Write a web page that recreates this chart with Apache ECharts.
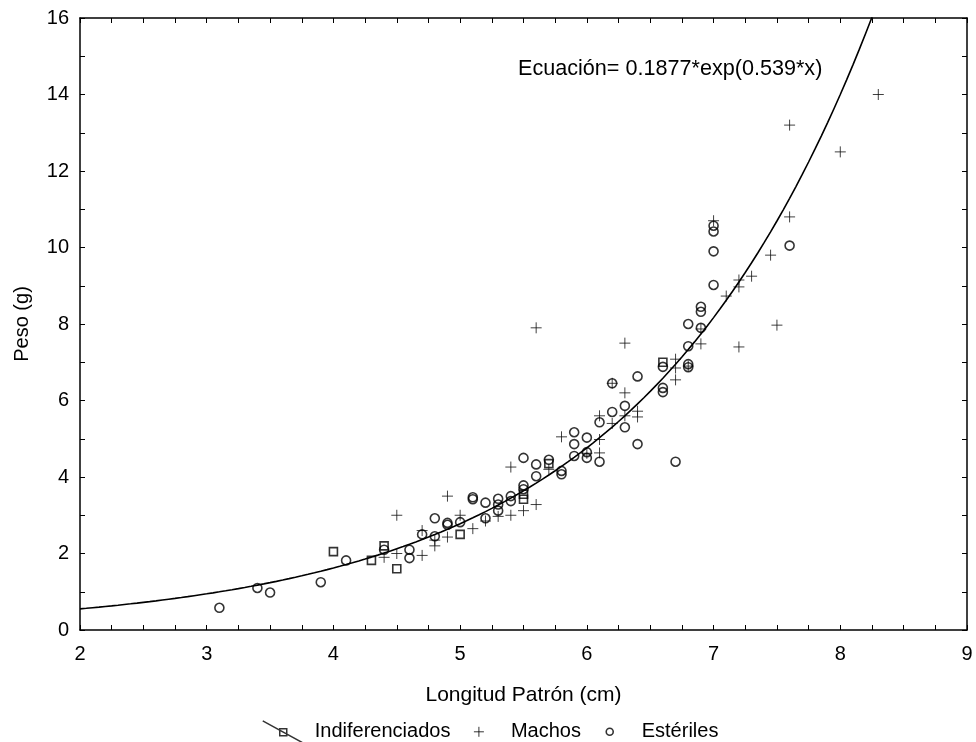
<!DOCTYPE html>
<html>
<head>
<meta charset="utf-8">
<script src="https://cdn.jsdelivr.net/npm/echarts@6/dist/echarts.min.js"></script>
<style>
  html, body { margin: 0; padding: 0; background: #fff; }
  #chart { width: 976px; height: 742px; }
</style>
</head>
<body>
<div id="chart"></div>
<script>
  // Indiferenciados (cuadrados)
  const indiferenciados = [
    [4.0, 2.05], [4.3, 1.82], [4.4, 2.2], [4.5, 1.6], [5.0, 2.5],
    [5.5, 3.42], [5.5, 3.55], [5.7, 4.35], [6.6, 7.0]
  ]
  // Machos (cruces)
  const machos = [
    [4.4, 1.9], [4.5, 3.0], [4.5, 2.0], [4.7, 1.95], [4.7, 2.6], [4.8, 2.2], [4.8, 2.35],
    [4.9, 3.5], [4.9, 2.43], [5.0, 3.0], [5.1, 2.65], [5.2, 2.85], [5.3, 2.97], [5.4, 3.0],
    [5.4, 4.26], [5.5, 3.12], [5.6, 3.28], [5.6, 7.9], [5.7, 4.2], [5.8, 5.05], [6.0, 4.62],
    [6.1, 5.6], [6.1, 4.98], [6.1, 4.63], [6.2, 6.45], [6.2, 5.4], [6.3, 7.5], [6.3, 6.2],
    [6.3, 5.6], [6.4, 5.72], [6.4, 5.57], [6.7, 7.08], [6.7, 6.85], [6.7, 6.54], [6.8, 6.9],
    [6.9, 7.87], [6.9, 7.48], [7.0, 10.7], [7.1, 8.73], [7.2, 9.15], [7.2, 8.97], [7.2, 7.4],
    [7.3, 9.25], [7.45, 9.8], [7.5, 7.97], [7.6, 10.8], [7.6, 13.2], [8.0, 12.5], [8.3, 14.0]
  ]
  // Estériles (círculos)
  const esteriles = [
    [3.1, 0.58], [3.4, 1.1], [3.5, 0.98], [3.9, 1.25], [4.1, 1.82], [4.4, 2.1], [4.6, 2.1],
    [4.6, 1.88], [4.7, 2.5], [4.8, 2.92], [4.8, 2.45], [4.9, 2.75], [4.9, 2.8], [5.0, 2.82],
    [5.1, 3.42], [5.1, 3.47], [5.2, 3.33], [5.2, 2.92], [5.3, 3.43], [5.3, 3.28], [5.3, 3.12],
    [5.4, 3.5], [5.4, 3.37], [5.5, 3.78], [5.5, 3.68], [5.5, 4.5], [5.6, 4.33], [5.6, 4.02],
    [5.7, 4.45], [5.8, 4.16], [5.8, 4.07], [5.9, 5.17], [5.9, 4.86], [5.9, 4.55], [6.0, 5.03],
    [6.0, 4.65], [6.0, 4.5], [6.1, 4.4], [6.1, 5.43], [6.2, 5.7], [6.2, 6.45], [6.3, 5.86],
    [6.3, 5.3], [6.4, 6.63], [6.4, 4.86], [6.6, 6.88], [6.6, 6.33], [6.6, 6.22], [6.7, 4.4],
    [6.8, 8.0], [6.8, 7.42], [6.8, 6.95], [6.8, 6.87], [6.9, 8.45], [6.9, 8.32], [6.9, 7.9],
    [7.0, 10.57], [7.0, 10.42], [7.0, 9.9], [7.0, 9.02], [7.6, 10.05]
  ]
  const xTicks = [2, 9, 1]   // min, max, interval
  const yTicks = [0, 16, 2]

  // curva ajustada: Peso = 0.1877*exp(0.539*x)
  const fitA = 0.1877
  const fitB = 0.539
  const fitLine = []
  for (let x = 2; x <= 8.4; x += 0.05) {
    fitLine.push([x, fitA * Math.exp(fitB * x)])
  }

  const FONT = 'Liberation Sans, Arial, sans-serif'
  const black = '#000'
  const hollow = 'rgba(0,0,0,0)'
  const plusPath = 'path://M0,5L10,5M5,0L5,10'

  const tickCfg = { show: true, inside: true, length: 5, lineStyle: { color: black, width: 1 } }
  const minorCfg = (n) => ({ show: true, splitNumber: n, length: 5, lineStyle: { color: black, width: 1 } })

  let myChart = echarts.init(document.getElementById('chart'), null, { renderer: 'canvas' })
  myChart.setOption({
    animation: false,
    backgroundColor: '#fff',
    textStyle: { fontFamily: FONT, color: black },
    grid: { left: 80, right: 9, top: 18, bottom: 112 },
    legend: {
      left: 262,
      top: 720,
      padding: 0,
      itemWidth: 40,
      itemHeight: 22,
      itemGap: 8,
      textStyle: { fontSize: 20, fontFamily: FONT, color: black, padding: [0, 0, 0, 7] },
      data: [
        {
          name: 'Indiferenciados',
          icon: 'path://M0,0L40,22M17,8L24,8L24,15L17,15Z',
          itemStyle: { color: hollow, borderColor: black, borderWidth: 1.5 }
        },
        {
          name: 'Machos',
          icon: 'path://M0,0M40,22M15,11L25,11M20,6L20,16',
          itemStyle: { color: hollow, borderColor: black, borderWidth: 1 }
        },
        {
          name: 'Estériles',
          icon: 'path://M0,0M40,22M23.5,11A3.5,3.5,0,1,1,16.5,11A3.5,3.5,0,1,1,23.5,11Z',
          itemStyle: { color: hollow, borderColor: black, borderWidth: 1.6 }
        }
      ]
    },
    graphic: [{
      type: 'text',
      left: 518,
      top: 58,
      style: { text: 'Ecuación= 0.1877*exp(0.539*x)', font: '21.6px ' + FONT, fill: black }
    }],
    xAxis: [{
      type: 'value',
      min: xTicks[0], max: xTicks[1], interval: xTicks[2],
      position: 'bottom',
      name: 'Longitud Patrón (cm)',
      nameLocation: 'middle',
      nameGap: 55,
      nameTextStyle: { fontSize: 21, color: black },
      axisLine: { show: true, onZero: false, lineStyle: { color: black, width: 1.5 } },
      axisTick: tickCfg,
      minorTick: minorCfg(4),
      splitLine: { show: false },
      axisLabel: { fontSize: 20, color: black, margin: 14 }
    }, {
      type: 'value',
      min: xTicks[0], max: xTicks[1], interval: xTicks[2],
      position: 'top',
      axisLine: { show: true, onZero: false, lineStyle: { color: black, width: 1.5 } },
      axisTick: tickCfg,
      minorTick: minorCfg(4),
      splitLine: { show: false },
      axisLabel: { show: false }
    }],
    yAxis: [{
      type: 'value',
      min: yTicks[0], max: yTicks[1], interval: yTicks[2],
      position: 'left',
      name: 'Peso (g)',
      nameLocation: 'middle',
      nameGap: 48,
      nameTextStyle: { fontSize: 20, color: black },
      axisLine: { show: true, onZero: false, lineStyle: { color: black, width: 1.5 } },
      axisTick: tickCfg,
      minorTick: minorCfg(2),
      splitLine: { show: false },
      axisLabel: { fontSize: 20, color: black, margin: 11 }
    }, {
      type: 'value',
      min: yTicks[0], max: yTicks[1], interval: yTicks[2],
      position: 'right',
      axisLine: { show: true, onZero: false, lineStyle: { color: black, width: 1.5 } },
      axisTick: tickCfg,
      minorTick: minorCfg(2),
      splitLine: { show: false },
      axisLabel: { show: false }
    }],
    series: [{
      name: 'Ajuste',
      type: 'line',
      data: fitLine,
      showSymbol: false,
      smooth: false,
      lineStyle: { color: black, width: 1.6 },
      z: 3
    }, {
      name: 'Indiferenciados',
      type: 'scatter',
      data: indiferenciados,
      symbol: 'rect',
      symbolSize: 8,
      itemStyle: { color: hollow, borderColor: black, borderWidth: 1.6 }
    }, {
      name: 'Machos',
      type: 'scatter',
      data: machos,
      symbol: plusPath,
      symbolSize: 11,
      itemStyle: { color: hollow, borderColor: '#111', borderWidth: 1 }
    }, {
      name: 'Estériles',
      type: 'scatter',
      data: esteriles,
      symbol: 'circle',
      symbolSize: 9,
      itemStyle: { color: hollow, borderColor: black, borderWidth: 1.6 }
    }]
  })
</script>
</body>
</html>
